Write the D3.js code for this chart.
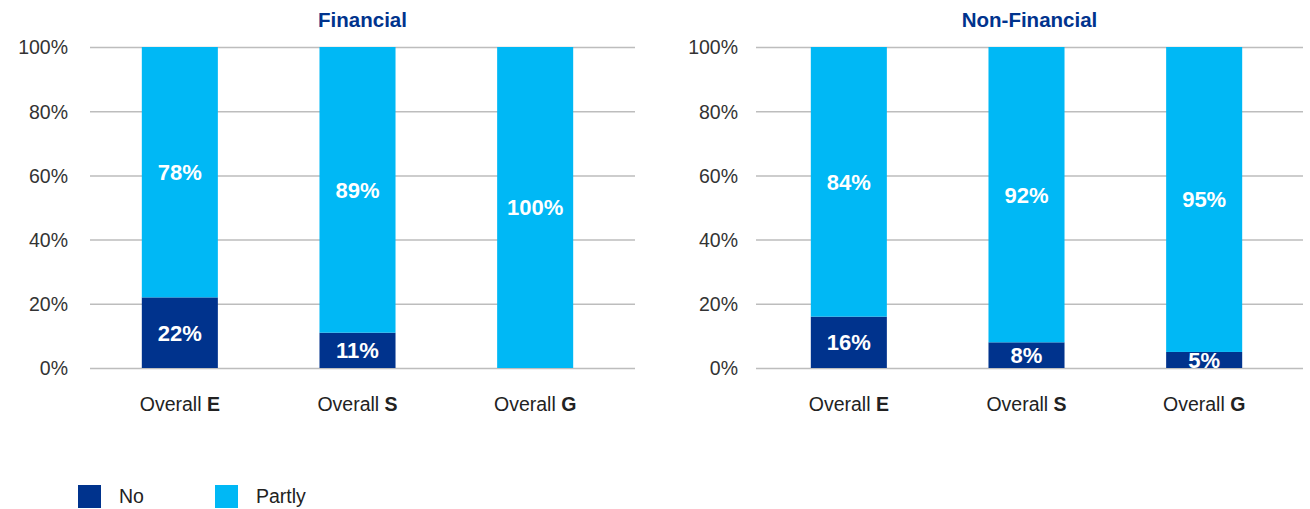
<!DOCTYPE html>
<html>
<head>
<meta charset="utf-8">
<script src="https://cdn.jsdelivr.net/npm/d3@7"></script>
<style>
  html, body { margin: 0; padding: 0; background: #fff; }
  svg { display: block; font-family: "Liberation Sans", Arial, sans-serif; }
</style>
</head>
<body>
<svg id="chart" width="1310" height="509"></svg>
<script>
// Share of disclosures, by pillar, split into "No" and "Partly"
const categories = ["Overall E", "Overall S", "Overall G"];
const seriesNames = ["No", "Partly"];
const financialNo = [0.22, 0.11, 0.00];
const financialPartly = [0.78, 0.89, 1.00];
const nonFinancialNo = [0.16, 0.08, 0.05];
const nonFinancialPartly = [0.84, 0.92, 0.95];
const yTicks = [0, 0.2, 0.4, 0.6, 0.8, 1.0];

const colors = { No: "#00338D", Partly: "#00B8F5" };
const titleColor = "#00338D";

const panels = [
  { title: "Financial", no: financialNo, partly: financialPartly,
    gridX: [90, 635], band: [91, 624], labelPad: 22 },
  { title: "Non-Financial", no: nonFinancialNo, partly: nonFinancialPartly,
    gridX: [756, 1303], band: [760, 1293], labelPad: 18 }
];

const svg = d3.select("#chart");
const y = d3.scaleLinear().domain([0, 1]).range([368, 47]);
const pct = d3.format(".0%");

panels.forEach(p => {
  const g = svg.append("g");
  const x = d3.scaleBand().domain(categories).range(p.band)
    .paddingInner(0.572).paddingOuter(0.286);

  // Gridlines and y tick labels
  const axis = d3.axisLeft(y).tickValues(yTicks).tickFormat(pct)
    .tickSize(-(p.gridX[1] - p.gridX[0])).tickPadding(p.labelPad);
  const ax = g.append("g").attr("transform", `translate(${p.gridX[0]},0)`).call(axis);
  ax.select(".domain").remove();
  ax.selectAll(".tick line").attr("stroke", "#bdbdbd").attr("stroke-width", 1.5);
  ax.selectAll(".tick text").attr("fill", "#333").style("font-size", "19.5px")
    .attr("dy", "0.35em");

  // Stacked bars
  const rows = categories.map((c, i) => ({ cat: c, No: p.no[i], Partly: p.partly[i] }));
  const stacked = d3.stack().keys(seriesNames)(rows);
  const layer = g.selectAll(".layer").data(stacked).join("g")
    .attr("fill", d => colors[d.key]);
  layer.selectAll("rect").data(d => d).join("rect")
    .attr("x", d => x(d.data.cat))
    .attr("width", x.bandwidth())
    .attr("y", d => y(d[1]))
    .attr("height", d => y(d[0]) - y(d[1]));

  // Value labels, centred in each non-empty segment
  stacked.forEach(s => {
    g.selectAll(null).data(s.filter(d => d[1] - d[0] > 0)).join("text")
      .attr("x", d => x(d.data.cat) + x.bandwidth() / 2)
      .attr("y", d => y((d[0] + d[1]) / 2))
      .attr("dy", "0.36em")
      .attr("text-anchor", "middle")
      .attr("fill", "#fff")
      .style("font-size", "22px").style("font-weight", "bold")
      .text(d => pct(d[1] - d[0]));
  });

  // Category labels: "Overall" regular, pillar letter bold
  const cl = g.selectAll(".cat").data(categories).join("text")
    .attr("x", d => x(d) + x.bandwidth() / 2)
    .attr("y", 411)
    .attr("text-anchor", "middle")
    .attr("fill", "#222")
    .style("font-size", "19.5px");
  cl.append("tspan").text(d => d.slice(0, d.lastIndexOf(" ") + 1));
  cl.append("tspan").style("font-weight", "bold").text(d => d.slice(d.lastIndexOf(" ") + 1));

  // Panel title
  g.append("text")
    .attr("x", (p.gridX[0] + p.gridX[1]) / 2)
    .attr("y", 27)
    .attr("text-anchor", "middle")
    .attr("fill", titleColor)
    .style("font-size", "20.5px").style("font-weight", "bold")
    .text(p.title);
});

// Legend
const legendX = [78, 215];
const legend = svg.selectAll(".legend").data(seriesNames).join("g")
  .attr("transform", (d, i) => `translate(${legendX[i]},485)`);
legend.append("rect").attr("width", 23).attr("height", 23).attr("fill", d => colors[d]);
legend.append("text").attr("x", 41).attr("y", 18)
  .attr("fill", "#222").style("font-size", "19.5px").text(d => d);
</script>
</body>
</html>
